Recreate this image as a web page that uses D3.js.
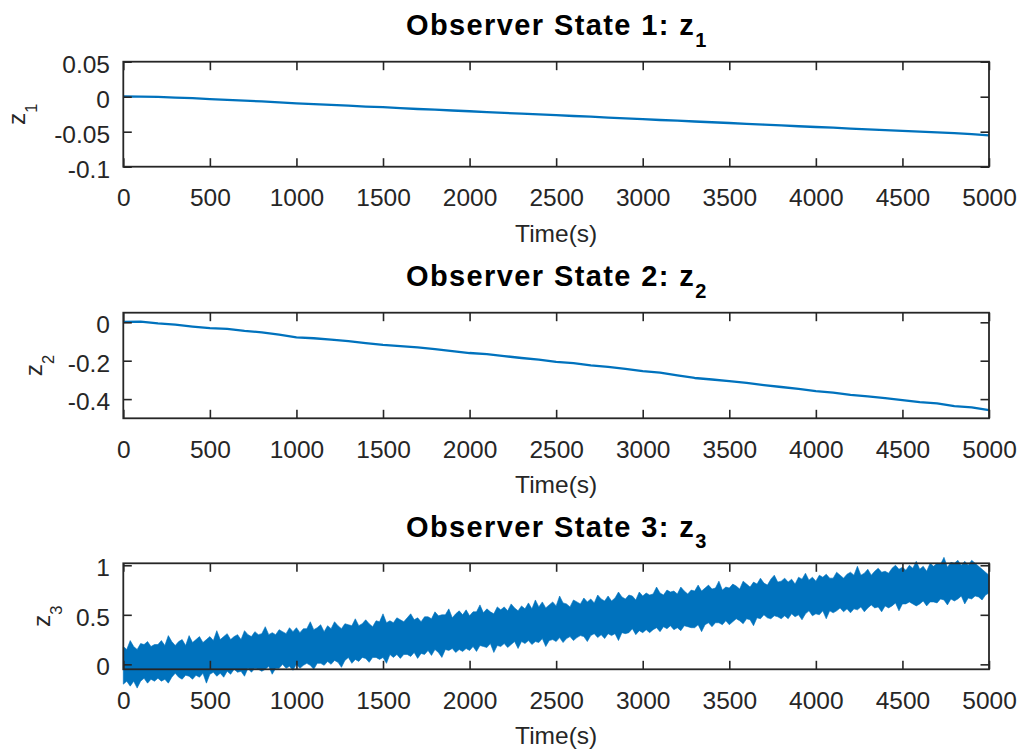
<!DOCTYPE html>
<html>
<head>
<meta charset="utf-8">
<script src="https://cdn.jsdelivr.net/npm/d3@7"></script>
<style>
  body { margin: 0; background: #fff; }
  svg { display: block; }
  text { font-family: "Liberation Sans", Arial, Helvetica, sans-serif; }
</style>
</head>
<body>
<svg id="fig" width="1021" height="750"></svg>
<script>
// ---- data ---------------------------------------------------------------
const timeTicks = [0, 500, 1000, 1500, 2000, 2500, 3000, 3500, 4000, 4500, 5000];

// observer state z1, sampled every 100 s
const z1Time = d3.range(0, 5001, 100);
const z1Values = [
  0.0003, 0.0002, -0.0003, -0.0012, -0.0020, -0.0035, -0.0045, -0.0055, -0.0068, -0.0082,
  -0.0094, -0.0105, -0.0118, -0.0128, -0.0141, -0.0150, -0.0163, -0.0176, -0.0185, -0.0197,
  -0.0208, -0.0219, -0.0232, -0.0241, -0.0253, -0.0264, -0.0276, -0.0286, -0.0299, -0.0309,
  -0.0320, -0.0333, -0.0343, -0.0354, -0.0365, -0.0376, -0.0389, -0.0398, -0.0410, -0.0422,
  -0.0433, -0.0443, -0.0455, -0.0466, -0.0477, -0.0489, -0.0500, -0.0511, -0.0521, -0.0535,
  -0.0552
];
const z1Ticks = [-0.1, -0.05, 0, 0.05];

// observer state z2, sampled every 100 s
const z2Time = d3.range(0, 5001, 100);
const z2Values = [
  0.002, 0.004, -0.006, -0.012, -0.022, -0.030, -0.034, -0.045, -0.052, -0.064,
  -0.078, -0.083, -0.090, -0.098, -0.108, -0.118, -0.124, -0.131, -0.140, -0.150,
  -0.160, -0.166, -0.176, -0.186, -0.194, -0.206, -0.213, -0.224, -0.232, -0.243,
  -0.254, -0.262, -0.277, -0.290, -0.298, -0.306, -0.315, -0.327, -0.337, -0.347,
  -0.358, -0.366, -0.378, -0.386, -0.395, -0.405, -0.416, -0.422, -0.437, -0.443,
  -0.458
];
const z2Ticks = [-0.4, -0.2, 0];

// observer state z3: upper and lower envelope of the noisy trace, every 20 s
const z3Time = d3.range(0, 5001, 20);
const z3Upper = [
  0.18, 0.15, 0.24, 0.18, 0.15, 0.21, 0.20, 0.23, 0.18, 0.20,
  0.20, 0.24, 0.19, 0.29, 0.23, 0.19, 0.23, 0.25, 0.19, 0.29,
  0.22, 0.25, 0.28, 0.22, 0.25, 0.28, 0.24, 0.34, 0.25, 0.28,
  0.31, 0.25, 0.28, 0.30, 0.25, 0.34, 0.30, 0.28, 0.33, 0.30,
  0.31, 0.38, 0.30, 0.32, 0.30, 0.35, 0.33, 0.31, 0.37, 0.33,
  0.37, 0.32, 0.36, 0.36, 0.43, 0.35, 0.37, 0.40, 0.33, 0.39,
  0.36, 0.43, 0.39, 0.36, 0.41, 0.40, 0.39, 0.46, 0.39, 0.41,
  0.45, 0.41, 0.38, 0.44, 0.43, 0.51, 0.42, 0.44, 0.42, 0.47,
  0.45, 0.43, 0.47, 0.51, 0.45, 0.47, 0.43, 0.48, 0.48, 0.46,
  0.53, 0.49, 0.50, 0.50, 0.56, 0.47, 0.51, 0.54, 0.50, 0.55,
  0.49, 0.53, 0.53, 0.60, 0.52, 0.56, 0.53, 0.51, 0.58, 0.55,
  0.58, 0.54, 0.61, 0.57, 0.54, 0.59, 0.56, 0.62, 0.56, 0.65,
  0.58, 0.63, 0.57, 0.60, 0.63, 0.59, 0.69, 0.62, 0.61, 0.58,
  0.65, 0.63, 0.61, 0.67, 0.63, 0.66, 0.62, 0.70, 0.66, 0.64,
  0.69, 0.64, 0.67, 0.73, 0.68, 0.66, 0.70, 0.69, 0.65, 0.73,
  0.69, 0.72, 0.70, 0.71, 0.78, 0.72, 0.70, 0.75, 0.73, 0.74,
  0.71, 0.78, 0.74, 0.71, 0.75, 0.74, 0.80, 0.74, 0.77, 0.80,
  0.76, 0.77, 0.84, 0.75, 0.78, 0.77, 0.81, 0.79, 0.76, 0.84,
  0.81, 0.78, 0.83, 0.81, 0.87, 0.82, 0.80, 0.86, 0.90, 0.83,
  0.84, 0.87, 0.83, 0.86, 0.81, 0.88, 0.86, 0.92, 0.85, 0.88,
  0.84, 0.90, 0.88, 0.91, 0.87, 0.87, 0.93, 0.90, 0.87, 0.91,
  0.93, 0.90, 0.99, 0.90, 0.92, 0.96, 0.90, 0.94, 0.97, 0.93,
  0.94, 0.92, 0.97, 1.00, 0.96, 0.98, 0.95, 1.00, 0.97, 1.04,
  0.96, 0.99, 0.94, 1.02, 0.99, 1.02, 1.01, 1.08, 0.98, 1.03,
  1.02, 1.05, 1.00, 1.04, 1.00, 1.05, 1.02, 0.99, 0.96, 0.93,
  0.90
];
const z3Lower = [
  -0.20, -0.17, -0.22, -0.17, -0.24, -0.17, -0.14, -0.19, -0.15, -0.17,
  -0.14, -0.17, -0.15, -0.19, -0.13, -0.09, -0.13, -0.15, -0.11, -0.12,
  -0.15, -0.11, -0.13, -0.09, -0.19, -0.10, -0.08, -0.12, -0.09, -0.13,
  -0.07, -0.10, -0.05, -0.08, -0.07, -0.12, -0.04, -0.08, -0.04, -0.05,
  -0.07, -0.05, -0.02, -0.10, -0.04, -0.04, 0.00, -0.04, -0.02, -0.06,
  0.00, -0.04, -0.01, 0.01, -0.01, -0.05, 0.01, 0.01, -0.01, 0.03,
  0.00, 0.04, 0.02, -0.03, 0.04, 0.07, 0.01, 0.05, 0.03, 0.07,
  0.06, 0.02, 0.07, 0.07, 0.05, 0.07, 0.01, 0.10, 0.07, 0.10,
  0.06, 0.10, 0.10, 0.08, 0.12, 0.06, 0.11, 0.10, 0.14, 0.09,
  0.15, 0.12, 0.07, 0.15, 0.14, 0.16, 0.12, 0.15, 0.13, 0.16,
  0.14, 0.18, 0.13, 0.19, 0.18, 0.17, 0.21, 0.12, 0.19, 0.18,
  0.21, 0.17, 0.20, 0.23, 0.16, 0.23, 0.21, 0.24, 0.20, 0.23,
  0.22, 0.26, 0.18, 0.24, 0.25, 0.23, 0.27, 0.22, 0.26, 0.28,
  0.24, 0.27, 0.29, 0.28, 0.23, 0.29, 0.31, 0.27, 0.30, 0.26,
  0.31, 0.29, 0.31, 0.24, 0.32, 0.31, 0.32, 0.36, 0.30, 0.34,
  0.32, 0.35, 0.32, 0.35, 0.37, 0.33, 0.38, 0.36, 0.39, 0.35,
  0.37, 0.34, 0.39, 0.38, 0.37, 0.37, 0.40, 0.33, 0.40, 0.42,
  0.38, 0.42, 0.42, 0.40, 0.44, 0.40, 0.43, 0.46, 0.44, 0.41,
  0.46, 0.45, 0.39, 0.47, 0.46, 0.50, 0.47, 0.46, 0.49, 0.48,
  0.46, 0.49, 0.46, 0.51, 0.48, 0.50, 0.45, 0.51, 0.54, 0.49,
  0.51, 0.50, 0.54, 0.46, 0.54, 0.52, 0.54, 0.57, 0.53, 0.56,
  0.52, 0.56, 0.55, 0.58, 0.53, 0.57, 0.60, 0.57, 0.58, 0.53,
  0.59, 0.57, 0.59, 0.62, 0.54, 0.61, 0.61, 0.63, 0.61, 0.59,
  0.61, 0.64, 0.59, 0.63, 0.63, 0.62, 0.66, 0.65, 0.60, 0.66,
  0.64, 0.66, 0.69, 0.61, 0.67, 0.66, 0.69, 0.68, 0.65, 0.70,
  0.72
];
const z3Ticks = [0, 0.5, 1];

// ---- layout & style -----------------------------------------------------
const LINE = "#0072BD";
const AXIS = "#262626";
const FONT = 24.5;
const TICK_LEN = 8.5;
const xLeft = 123.3, xRight = 989;
const num = d => String(+d.toFixed(2));   // plain hyphen-minus for negatives

const panels = [
  { idx: 1, top: 61.7,  bottom: 166.7, domain: [-0.1, 0.05],  ticks: z1Ticks, ylabX: 25 },
  { idx: 2, top: 312.7, bottom: 418.3, domain: [-0.5, 0.05],  ticks: z2Ticks, ylabX: 42 },
  { idx: 3, top: 563.3, bottom: 669.3, domain: [-0.05, 1.02], ticks: z3Ticks, ylabX: 50 }
];

const svg = d3.select("#fig");
svg.append("rect").attr("width", 1021).attr("height", 750).attr("fill", "#fff");

const x = d3.scaleLinear().domain([0, 5000]).range([xLeft, xRight]);

function styleAxis(g) {
  g.select(".domain").remove();
  g.selectAll(".tick line").attr("stroke", AXIS).attr("stroke-width", 1.6);
  g.selectAll(".tick text")
    .attr("fill", AXIS)
    .style("font-size", FONT + "px")
    .style("font-family", '"Liberation Sans", Arial, Helvetica, sans-serif');
}

panels.forEach(p => {
  const y = d3.scaleLinear().domain(p.domain).range([p.bottom, p.top]);
  const g = svg.append("g");
  const midX = (xLeft + xRight) / 2;
  const midY = (p.top + p.bottom) / 2;

  // data
  if (p.idx === 1 || p.idx === 2) {
    const times = p.idx === 1 ? z1Time : z2Time;
    const vals = p.idx === 1 ? z1Values : z2Values;
    const line = d3.line().x((d, i) => x(times[i])).y(d => y(d));
    g.append("path")
      .datum(vals)
      .attr("d", line)
      .attr("fill", "none")
      .attr("stroke", LINE)
      .attr("stroke-width", 2.3)
      .attr("stroke-linejoin", "round");
  } else {
    const band = d3.area()
      .x((d, i) => x(z3Time[i]))
      .y0((d, i) => y(z3Lower[i]))
      .y1(d => y(d));
    g.append("path")
      .datum(z3Upper)
      .attr("d", band)
      .attr("fill", LINE)
      .attr("stroke", LINE)
      .attr("stroke-width", 0.6)
      .attr("stroke-linejoin", "miter");
  }

  // axes (ticks point inward, mirrored on top and right)
  g.append("g")
    .attr("transform", `translate(0,${p.bottom})`)
    .call(d3.axisBottom(x).tickValues(timeTicks).tickFormat(d3.format("d"))
      .tickSizeInner(-TICK_LEN).tickSizeOuter(0).tickPadding(21.9))
    .call(styleAxis);
  g.append("g")
    .attr("transform", `translate(0,${p.top})`)
    .call(d3.axisTop(x).tickValues(timeTicks).tickFormat(() => "")
      .tickSizeInner(-TICK_LEN).tickSizeOuter(0))
    .call(styleAxis);
  const left = g.append("g")
    .attr("transform", `translate(${xLeft},0)`)
    .call(d3.axisLeft(y).tickValues(p.ticks).tickFormat(num)
      .tickSizeInner(-TICK_LEN).tickSizeOuter(0).tickPadding(13.3))
    .call(styleAxis);
  left.selectAll(".tick text").attr("dy", "0.43em");
  g.append("g")
    .attr("transform", `translate(${xRight},0)`)
    .call(d3.axisRight(y).tickValues(p.ticks).tickFormat(() => "")
      .tickSizeInner(-TICK_LEN).tickSizeOuter(0))
    .call(styleAxis);

  // box
  g.append("rect")
    .attr("x", xLeft).attr("y", p.top)
    .attr("width", xRight - xLeft).attr("height", p.bottom - p.top)
    .attr("fill", "none").attr("stroke", AXIS).attr("stroke-width", 1.8);

  // title
  const t = g.append("text")
    .attr("x", midX).attr("y", p.top - 26.7)
    .attr("text-anchor", "middle")
    .attr("fill", "#000")
    .style("font-weight", "bold")
    .style("font-size", "29px");
  t.append("tspan").style("letter-spacing", "1.4px").text(`Observer State ${p.idx}: z`);
  t.append("tspan").attr("dy", 11.7).style("font-size", "20px").text(p.idx);

  // x label
  g.append("text")
    .attr("x", midX).attr("y", p.bottom + 75)
    .attr("text-anchor", "middle")
    .attr("fill", AXIS)
    .style("font-size", FONT + "px")
    .text("Time(s)");

  // y label
  const yl = g.append("text")
    .attr("transform", `translate(${p.ylabX},${midY}) rotate(-90)`)
    .attr("text-anchor", "middle")
    .attr("fill", AXIS)
    .style("font-size", FONT + "px");
  yl.append("tspan").text("z");
  yl.append("tspan").attr("dy", 12).style("font-size", "16.5px").text(p.idx);
});
</script>
</body>
</html>
